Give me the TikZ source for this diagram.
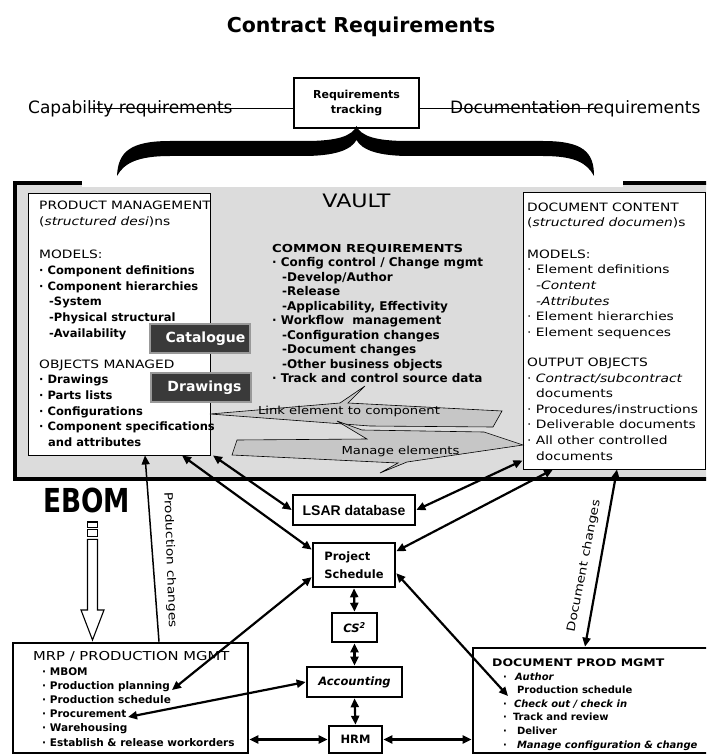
\documentclass[tikz,border=0pt]{standalone}
\usepackage{fontspec}
\setmainfont{DejaVu Sans}
\newfontfamily\wfont{DejaVu Sans}[FakeStretch=1.2]
\newfontfamily\lsarfont{Liberation Sans}
\usetikzlibrary{arrows.meta}
\definecolor{vaultgray}{HTML}{DCDCDC}
\definecolor{zapgray}{HTML}{C6C6C6}
\definecolor{btngray}{HTML}{3A3A3A}
\newcommand\fsz[2]{\fontsize{#1}{#2}\selectfont}

\begin{document}
\begin{tikzpicture}[x=1pt,y=-1pt,
    blk/.style={draw,line width=2.6pt,fill=white,inner sep=0pt},
    thinblk/.style={draw,line width=0.9pt,fill=white,inner sep=0pt},
    txt/.style={inner sep=0pt,anchor=base west,align=left},
    twoway/.style={line width=2.2pt,{Triangle[length=9pt,width=8pt]}-{Triangle[length=9pt,width=8pt]}},
    oneway/.style={line width=1.5pt,-{Triangle[length=9pt,width=8pt]}},
    btn/.style={fill=btngray,draw=black!40,line width=1.5pt,minimum width=100pt,%
      minimum height=29pt,inner sep=0pt,text=white,font=\fsz{14}{14}\bfseries},
    zap/.style={fill=zapgray,draw=black,line width=0.6pt}]
  \useasboundingbox (0,0) rectangle (706,754) ;
  \clip (0,0) rectangle (706,754) ;
  \fill[white] (0,0) rectangle (706,754) ;

  % top: contract requirements
  \node[anchor=base,inner sep=0pt] (title) at (361,33) {\fsz{20.5}{24}\bfseries Contract Requirements} ;
  \node[txt] (capreq) at (28,114) {\fsz{17}{20}Capability requirements} ;
  \node[txt] (docreq) at (450,114) {\fsz{17}{20}Documentation requirements} ;
  \node[blk,minimum width=125pt,minimum height=50pt,align=center,font=\fsz{11}{15}\bfseries] %
    (RT) at (356.5,103) {Requirements\\tracking} ;
  \coordinate (capline) at (90,109) ;
  \coordinate (docline) at (597,109) ;
  \draw[line width=1pt] (capline) -- (capline -| RT.west) ;
  \draw[line width=1pt] (RT.east |- docline) -- (docline) ;

  % vault
  \draw[fill=vaultgray,line width=3.5pt] (15,183) rectangle (712,479) ;
  \fill[white] (82,150) rectangle (623,187) ;
  \fill (117,176) .. controls (118,152) and (130,141) .. (170,141) -- (305,141)
    .. controls (338,141) and (352,136) .. (356.5,126)
    .. controls (361,136) and (375,141) .. (408,141) -- (543,141)
    .. controls (583,141) and (594,152) .. (594,176)
    .. controls (587,163) and (575,156) .. (543,156) -- (410,156)
    .. controls (378,156) and (362,150) .. (356.5,140)
    .. controls (351,150) and (335,156) .. (303,156) -- (170,156)
    .. controls (138,156) and (124,163) .. (117,176) -- cycle ;
  \node[anchor=base,inner sep=0pt] (vault) at (356.5,207) {\wfont\fsz{18.5}{20}VAULT} ;

  \node[thinblk,minimum width=182pt,minimum height=262pt] (PM) at (119,324) {} ;
  \node[thinblk,minimum width=182pt,minimum height=277pt] (DC) at (614,330.5) {} ;

  % multi-line texts sit on the baseline of their last line
  \node[txt,font=\fsz{11.5}{15.7}\bfseries] (PMtxt) at (39,446.5) {%
    {\wfont\mdseries PRODUCT MANAGEMENT}\\
    {\wfont\mdseries (\textit{structured desi})ns}\\[18pt]
    {\wfont\mdseries MODELS:}\\
    · Component definitions\\
    · Component hierarchies\\
    \hspace*{10pt}-System\\
    \hspace*{10pt}-Physical structural\\
    \hspace*{10pt}-Availability\\[15pt]
    {\wfont\mdseries OBJECTS MANAGED}\\
    · Drawings\\
    · Parts lists\\
    · Configurations\\
    · Component specifications\\
    \hspace*{9pt}and attributes} ;

  \node[txt,font=\wfont\fsz{11.5}{15.6}] (DCtxt) at (527,460) {%
    DOCUMENT CONTENT\\
    (\textit{structured documen})s\\[16pt]
    MODELS:\\
    · Element definitions\\
    \hspace*{9pt}\textit{-Content}\\
    \hspace*{9pt}\textit{-Attributes}\\
    · Element hierarchies\\
    · Element sequences\\[14.6pt]
    OUTPUT OBJECTS\\
    · \textit{Contract/subcontract}\\
    \hspace*{9pt}documents\\
    · Procedures/instructions\\
    · Deliverable documents\\
    · All other controlled\\
    \hspace*{9pt}documents} ;

  \node[txt,font=\fsz{12}{14.5}\bfseries] (CRtxt) at (272,382.5) {%
    {\wfont\fsz{11}{14.5}COMMON REQUIREMENTS}\\
    · Config control / Change mgmt\\
    \hspace*{10pt}-Develop/Author\\
    \hspace*{10pt}-Release\\
    \hspace*{10pt}-Applicability, Effectivity\\
    · Workflow\ \ management\\
    \hspace*{10pt}-Configuration changes\\
    \hspace*{10pt}-Document changes\\
    \hspace*{10pt}-Other business objects\\
    · Track and control source data} ;

  % link / manage zig-zags
  \draw[zap] (210,414) -- (340,403) -- (365,386) -- (348,403) -- (502,411) -- (493,427) -- (370,426) -- cycle ;
  \draw[zap] (237,440) -- (367,439) -- (337,421) -- (362,430) -- (484,432) -- (523,445) %
    -- (407,462) -- (380,473) -- (398,463) -- (232,455) -- cycle ;
  \node[font=\wfont\fsz{11}{13},inner sep=0pt] (LNK) at (349,411) {Link element to component} ;
  \node[font=\wfont\fsz{11}{13},inner sep=0pt] (MNG) at (400.5,451.5) {Manage elements} ;

  \node[btn] (CAT) at (200,338.5) {\hspace*{11pt}Catalogue} ;
  \node[btn] (DRW) at (201,387.5) {\hspace*{7pt}Drawings} ;

  % lower part
  \node[anchor=base,inner sep=0pt] (EBOM) at (86.5,512) {\scalebox{0.8}[1]{\fsz{33}{33}\bfseries EBOM}} ;
  \draw[line width=1.1pt,fill=white] (87.5,522) rectangle (97.5,527.3) ;
  \draw[line width=1.1pt,fill=white] (87.5,529.3) rectangle (97.5,536.7) ;
  \draw[line width=1.1pt,fill=white] (87.5,539.3) -- (87.5,610) -- (81,610) -- (92.5,640) %
    -- (104,610) -- (97.5,610) -- (97.5,539.3) -- cycle ;

  \node[blk,minimum width=122pt,minimum height=30pt,font=\lsarfont\fsz{14}{14}\bfseries] %
    (LSAR) at (354,510) {LSAR database} ;
  \node[blk,minimum width=82pt,minimum height=44pt,align=left,font=\fsz{11.5}{18}\bfseries] %
    (PS) at (354,565) {Project\\Schedule} ;
  \node[blk,minimum width=45pt,minimum height=29pt,font=\fsz{11.5}{14}\bfseries\itshape] %
    (CS) at (354.5,627.5) {CS\textsuperscript{2}} ;
  \node[blk,minimum width=95pt,minimum height=30pt,font=\fsz{11.5}{14}\bfseries\itshape] %
    (ACC) at (354.5,682) {Accounting} ;
  \node[blk,minimum width=53pt,minimum height=27pt,font=\fsz{11.5}{14}\bfseries] %
    (HRM) at (355.5,739.5) {HRM} ;

  \node[blk,minimum width=235pt,minimum height=110pt] (MRP) at (130.5,698) {} ;
  \node[blk,minimum width=240pt,minimum height=105pt] (DPM) at (593,700.5) {} ;

  \node[txt,font=\fsz{10.5}{14.2}\bfseries] (MRPtxt) at (33,746) {%
    {\wfont\mdseries\fsz{12.3}{14.2}MRP / PRODUCTION MGMT}\\
    \hspace*{9pt}· MBOM\\
    \hspace*{9pt}· Production planning\\
    \hspace*{9pt}· Production schedule\\
    \hspace*{9pt}· Procurement\\
    \hspace*{9pt}· Warehousing\\
    \hspace*{9pt}· Establish \& release workorders} ;

  \node[txt,font=\fsz{10}{13.6}\bfseries] (DPMtxt) at (492,748) {%
    {\wfont\fsz{10.4}{13.6}DOCUMENT PROD MGMT}\\
    \hspace*{11pt}·\hspace*{8pt}\textit{Author}\\
    \hspace*{11pt}·\hspace*{10pt}Production schedule\\
    \hspace*{11pt}·\hspace*{7pt}\textit{Check out / check in}\\
    \hspace*{11pt}·\hspace*{6pt}Track and review\\
    \hspace*{11pt}·\hspace*{10pt}Deliver\\
    \hspace*{11pt}·\hspace*{10pt}\textit{Manage configuration \& change}} ;

  \coordinate (mrpplan) at (172,690) ;
  \coordinate (mrpproc) at (128,717) ;
  \coordinate (dpmsched) at (508,696) ;

  % connectors
  \draw[oneway] ([xshift=28.5pt]MRP.north) -- ([xshift=26pt]PM.south) ;
  \node[rotate=-88,font=\wfont\fsz{11.5}{14},inner sep=0pt] (PCH) at (170,560) {Production changes} ;
  \draw[twoway] ([xshift=63pt]PM.south) -- (PS.160) ;
  \draw[twoway] ([xshift=94pt]PM.south) -- (LSAR.west) ;
  \draw[twoway] ([yshift=9pt]DC.south west) -- (LSAR.east) ;
  \draw[twoway] ([xshift=-61pt]DC.south) -- (PS.18) ;
  \draw[twoway] ([xshift=3pt]DC.south) -- ([xshift=-8pt]DPM.north) ;
  \node[rotate=79,font=\wfont\fsz{11.5}{14},inner sep=0pt] (DCH) at (584,566) {Document changes} ;
  \draw[twoway] (PS.south) -- (CS.north) ;
  \draw[twoway] (CS.south) -- (ACC.north) ;
  \draw[twoway] (ACC.south) -- (HRM.north) ;
  \draw[twoway] (HRM.west) -- (MRP.east |- HRM.west) ;
  \draw[twoway] (HRM.east) -- (DPM.west |- HRM.east) ;
  \draw[twoway] (PS.196) -- (mrpplan) ;
  \draw[twoway] (ACC.west) -- (mrpproc) ;
  \draw[twoway] (PS.-11) -- (dpmsched) ;
\end{tikzpicture}
\end{document}
